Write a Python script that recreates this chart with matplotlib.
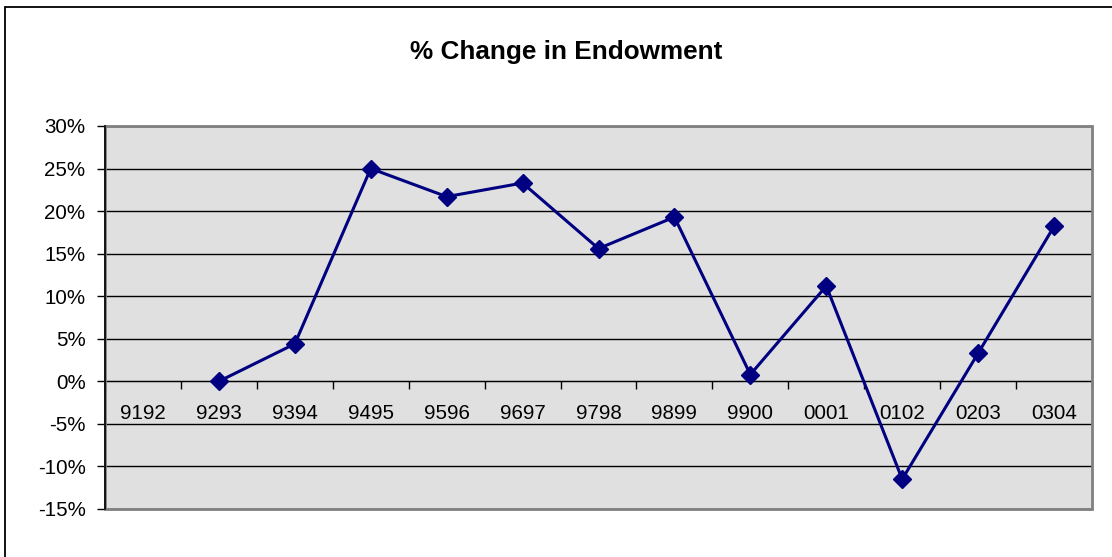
import matplotlib
matplotlib.use('Agg')
import matplotlib.pyplot as plt
import numpy as np
from matplotlib.patches import Rectangle
from matplotlib.ticker import FuncFormatter, MultipleLocator

years = ['9192', '9293', '9394', '9495', '9596', '9697', '9798',
         '9899', '9900', '0001', '0102', '0203', '0304']
pct_change = [np.nan, 0.0, 4.4, 25.0, 21.7, 23.3, 15.6,
              19.3, 0.8, 11.2, -11.5, 3.3, 18.2]

plt.rcParams['font.family'] = ['Liberation Sans', 'DejaVu Sans']

W, H = 1112, 557
fig = plt.figure(figsize=(W / 100, H / 100), dpi=100)
ax = fig.add_axes([105 / W, (H - 509) / H, (1092 - 105) / W, (509 - 126) / H])
ax.set_facecolor('#e0e0e0')

x = np.arange(len(years))
ax.plot(x, pct_change, color='#000080', lw=2.2, marker='D', markersize=9,
        zorder=3, clip_on=False)

ax.set_xlim(-0.5, len(years) - 0.5)
ax.set_ylim(-15, 30)
ax.yaxis.set_major_locator(MultipleLocator(5))
ax.yaxis.set_major_formatter(FuncFormatter(lambda v, p: f'{v:.0f}%'))
ax.grid(axis='y', color='black', lw=1.0)
ax.set_axisbelow(True)

# category axis crosses at 0
ax.spines['bottom'].set_position(('data', 0))
ax.spines['bottom'].set_color('black')
ax.spines['left'].set_color('black')
ax.spines['top'].set_visible(False)
ax.spines['right'].set_visible(False)
ax.add_patch(Rectangle((0, 0), 1, 1, transform=ax.transAxes, fill=False,
                       edgecolor='#808080', lw=2, zorder=4, clip_on=False))
ax.plot([0, 0], [0, 1], transform=ax.transAxes, color='black', lw=1.2,
        zorder=5, clip_on=False)

ax.set_xticks(x)
ax.set_xticklabels(years)
ax.set_xticks(np.arange(-0.5, len(years)), minor=True)
ax.tick_params(axis='x', which='major', length=0, pad=16, labelsize=14.8)
ax.tick_params(axis='x', which='minor', length=6, direction='out', width=1)
ax.tick_params(axis='y', length=6, width=1, pad=8, labelsize=14.8)

fig.text(566 / W, 1 - 52 / H, '% Change in Endowment', ha='center',
         va='center', fontsize=18.8, fontweight='bold')

fig.add_artist(Rectangle((5 / W, -0.1), 1.2, 1 - 7 / H + 0.1,
                         transform=fig.transFigure, fill=False,
                         edgecolor='black', lw=1.3))

fig.savefig('out.png', dpi=100)
